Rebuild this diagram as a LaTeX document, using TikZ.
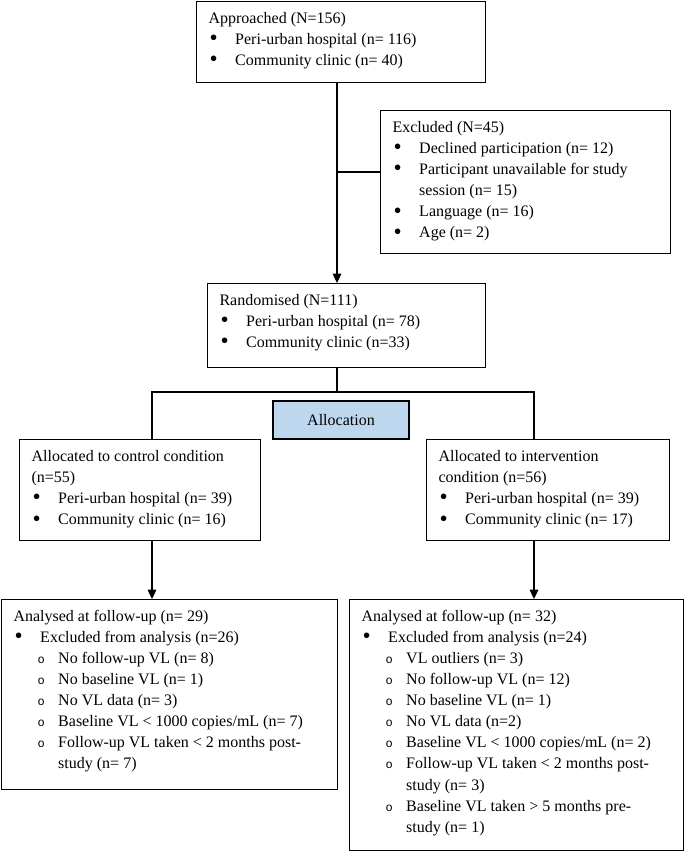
\documentclass[tikz,border=0pt]{standalone}
\usepackage{fontspec}
\setmainfont{Liberation Serif}
\newfontfamily\ringfont{Liberation Mono}
\usetikzlibrary{arrows.meta}

\definecolor{allocblue}{RGB}{189,215,238}
\newdimen\px \px=0.75pt

% box text: width, height (px), contents
\newcommand{\boxbody}[3]{\parbox[t][#2\px][t]{#1\px}{\fontsize{12}{15.8}\selectfont
  \raggedright\leftskip=9pt\parindent=0pt\vspace*{5.4pt}\strut#3}}
\newcommand{\bulitm}[1]{\par\hangindent=20pt\hangafter=1
  \makebox[20pt][l]{\hspace{0.8pt}\raisebox{-1pt}{\scalebox{1.45}{\textbullet}}}#1}
\newcommand{\subitm}[1]{\par\hangindent=33.5pt\hangafter=1
  \hspace*{18pt}\makebox[15.5pt][l]{\ringfont\fontsize{9}{9}\selectfont o}#1}

\begin{document}
\begin{tikzpicture}[x=0.75pt, y=-0.75pt, line width=0.85pt,
  panel/.style = {draw, inner sep=0pt, anchor=north west},
  flow/.style = {-{Triangle[length=7pt,width=6.5pt]}},]

\useasboundingbox (0,0) rectangle (685,853);

\node[panel] (approached) at (196,1) {\boxbody{289}{81}{Approached (N=156)
  \bulitm{Peri-urban hospital (n= 116)}
  \bulitm{Community clinic (n= 40)}}};
\node[panel] (excluded) at (380,110) {\boxbody{290}{143}{Excluded (N=45)
  \bulitm{Declined participation (n= 12)}
  \bulitm{Participant unavailable for study\newline session (n= 15)}
  \bulitm{Language (n= 16)}
  \bulitm{Age (n= 2)}}};
\node[panel] (randomised) at (207,283) {\boxbody{278}{84}{Randomised (N=111)
  \bulitm{Peri-urban hospital (n= 78)}
  \bulitm{Community clinic (n=33)}}};
\node[draw, fill=allocblue, inner sep=0pt, minimum width=102pt, minimum height=28.5pt,
  font=\fontsize{12}{14}\selectfont] (allocation) at (341,420) {Allocation};
\node[panel] (allocL) at (19,439) {\boxbody{241}{101}{Allocated to control condition\newline (n=55)
  \bulitm{Peri-urban hospital (n= 39)}
  \bulitm{Community clinic (n= 16)}}};
\node[panel] (allocR) at (426,439) {\boxbody{243}{101}{Allocated to intervention\newline condition (n=56)
  \bulitm{Peri-urban hospital (n= 39)}
  \bulitm{Community clinic (n= 17)}}};
\node[panel] (analL) at (1,599) {\boxbody{336}{190}{Analysed at follow-up (n= 29)
  \bulitm{Excluded from analysis (n=26)}
  \subitm{No follow-up VL (n= 8)}
  \subitm{No baseline VL (n= 1)}
  \subitm{No VL data (n= 3)}
  \subitm{Baseline VL < 1000 copies/mL (n= 7)}
  \subitm{Follow-up VL taken < 2 months post-\newline study (n= 7)}}};
\node[panel] (analR) at (349,599) {\boxbody{334}{251}{Analysed at follow-up (n= 32)
  \bulitm{Excluded from analysis (n=24)}
  \subitm{VL outliers (n= 3)}
  \subitm{No follow-up VL (n= 12)}
  \subitm{No baseline VL (n= 1)}
  \subitm{No VL data (n=2)}
  \subitm{Baseline VL < 1000 copies/mL (n= 2)}
  \subitm{Follow-up VL taken < 2 months post-\newline study (n= 3)}
  \subitm{Baseline VL taken > 5 months pre-\newline study (n= 1)}}};

\coordinate (spine) at (337,0);
\coordinate (exjoin) at (337,172);
\coordinate (split) at (337,392);
\coordinate (legL) at (152,392);
\coordinate (legR) at (534,392);

\draw[flow] (approached.south -| spine) -- (randomised.north -| spine);
\draw (exjoin) -- (exjoin -| excluded.west);
\draw (randomised.south -| split) -- (split);
\draw (allocL.north -| legL) -- (legL) -- (legR) -- (allocR.north -| legR);
\draw[flow] (allocL.south -| legL) -- (analL.north -| legL);
\draw[flow] (allocR.south -| legR) -- (analR.north -| legR);

\end{tikzpicture}
\end{document}
